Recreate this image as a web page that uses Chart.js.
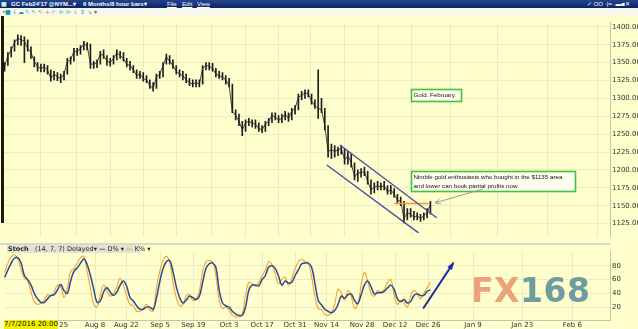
<!DOCTYPE html>
<html><head><meta charset="utf-8">
<script src="https://cdn.jsdelivr.net/npm/chart.js@4.4.1/dist/chart.umd.min.js"></script>
<style>
html,body{margin:0;padding:0;background:#fffecd;}
#wrap{position:relative;width:638px;height:329px;overflow:hidden;background:#fffecd;font-family:"DejaVu Sans",Verdana,sans-serif;}
#title{position:absolute;left:0;top:0;width:638px;height:8px;background:linear-gradient(#23448c,#0b2565);color:#fff;font-family:"Liberation Sans",Arial,sans-serif;font-size:6px;font-weight:bold;line-height:8px;}
#title span{position:absolute;top:0;white-space:nowrap;}
#tools{position:absolute;left:0;top:8px;width:638px;height:8px;background:#f7f7ea;font-size:6px;line-height:8px;white-space:nowrap;}
#tools span{position:absolute;top:0;}
#leftbar{position:absolute;left:1px;top:16px;width:3px;height:207px;background:#1b1b1b;}
#sep{position:absolute;left:0;top:243px;width:610px;height:2px;background:#d9d9c6;}
#c1{position:absolute;left:0;top:16px;}
#c2{position:absolute;left:0;top:245px;}
#stochLeg{position:absolute;left:7px;top:245px;height:8px;width:133px;background:#e3e3d3;font-size:6.5px;line-height:8px;color:#222;white-space:nowrap;}
#stamp{position:absolute;left:4px;top:320px;width:54px;height:9px;background:#f2f200;font-size:7px;line-height:9px;color:#111;white-space:nowrap;overflow:hidden;}
#wm{position:absolute;left:471px;top:274px;font-family:"DejaVu Sans",sans-serif;font-weight:bold;font-size:33px;line-height:33px;letter-spacing:0.5px;white-space:nowrap;}
</style></head>
<body>
<div id="wrap">
  <div id="title">
    <span style="left:1px;color:#cfe;">&#9635;</span>
    <span style="left:11px;">GC Feb24'17 @NYM...&#9662;</span>
    <span style="left:83px;">6 Months/8 hour bars&#9662;</span>
    <span style="left:167px;font-weight:normal;text-decoration:underline;">File</span>
    <span style="left:182px;font-weight:normal;text-decoration:underline;">Edit</span>
    <span style="left:197px;font-weight:normal;text-decoration:underline;">View</span>
    <span style="left:587px;font-weight:normal;">&#10003; OO &middot;|=&middot; &#9644;&#9632;&#10005;</span>
  </div>
  <div id="tools">
    <span style="left:2px;color:#c33;">&#8226;</span>
    <span style="left:5px;color:#19a;">&#9632;</span>
    <span style="left:12px;color:#3a8;">&#8681;</span>
    <span style="left:18px;color:#19a;">&#9729;</span>
    <span style="left:25px;color:#595;">&#8598;</span>
    <span style="left:31px;color:#595;">&#8598;</span>
    <span style="left:38px;color:#595;">&#8598;</span>
    <span style="left:45px;color:#d80;">+</span>
    <span style="left:52px;color:#3a8;">&#8866;</span>
    <span style="left:59px;color:#3a8;">&#8883;</span>
    <span style="left:66px;color:#3a8;">&#8883;</span>
    <span style="left:73px;color:#999;">&#8595;</span>
    <span style="left:80px;color:#3a8;">&#8597;</span>
    <span style="left:87px;color:#595;">&#8600;</span>
    <span style="left:94px;color:#666;">&#9662;</span>
  </div>
  <canvas id="c1" width="638" height="227" style="width:638px;height:227px"></canvas>
  <div id="leftbar"></div>
  <div id="sep"></div>
  <canvas id="c2" width="638" height="84" style="width:638px;height:84px"></canvas>
  <div id="stochLeg"><b style="margin-left:1px">Stoch</b>&nbsp;&nbsp; (14, 7, 7) Delayed&#9662; <span style="color:#2b4a90;font-weight:bold">&#8212;</span> D% &#9662; <span style="color:#f0a030;font-weight:bold">&#8212;</span> K% &#9662;</div>
  <div id="stamp">7/7/2016 20:00</div>
  <div id="wm"><span style="color:#eba27b">FX</span><span style="color:#6f9ca0">168</span></div>
</div>
<script>
// ---------- DATA ----------
// x positions: trading-day index, Jul 7 2016 = 0; first bar is index -6
const firstDayIndex = -6;
const priceClose = [
1345,1360,1368,1378,1384,1382,1380,1370,1364,1352,
1344,1342,1344,1340,1328,1334,1330,1328,1334,1352,
1354,1366,1365,1370,1376,1374,1348,1348,1350,1362,
1360,1352,1350,1356,1364,1360,1356,1348,1346,1340,
1332,1334,1328,1326,1318,1314,1330,1334,1346,1358,
1352,1346,1338,1334,1332,1326,1322,1320,1322,1320,
1342,1346,1345,1342,1334,1332,1330,1326,1318,1282,
1276,1268,1256,1266,1268,1266,1264,1258,1256,1264,
1268,1276,1274,1270,1272,1278,1272,1282,1286,1302,
1304,1308,1306,1296,1290,1286,1284,1262,1226,1228,
1226,1228,1230,1214,1220,1210,1190,1196,1196,1198,
1184,1172,1176,1178,1176,1178,1170,1172,1166,1158,
1156,1132,1140,1138,1134,1136,1132,1136,1140,1152];
const priceHigh = [
1350,1364,1372,1382,1389,1388,1386,1382,1372,1358,
1350,1348,1348,1346,1340,1338,1336,1334,1338,1356,
1358,1370,1370,1374,1380,1378,1376,1352,1354,1366,
1368,1360,1356,1360,1368,1366,1364,1356,1352,1346,
1340,1338,1336,1332,1326,1322,1334,1338,1350,1362,
1360,1354,1346,1340,1338,1334,1328,1326,1326,1326,
1346,1350,1350,1349,1342,1338,1336,1332,1328,1320,
1284,1278,1268,1270,1272,1270,1270,1266,1262,1268,
1272,1280,1280,1276,1278,1282,1280,1286,1290,1306,
1310,1312,1312,1306,1298,1340,1300,1286,1262,1236,
1234,1232,1234,1230,1226,1222,1210,1200,1202,1204,
1198,1186,1182,1184,1182,1184,1178,1178,1174,1166,
1162,1156,1146,1146,1142,1140,1138,1140,1146,1156];
const priceLow = [
1338,1346,1358,1366,1375,1374,1350,1366,1356,1344,
1338,1337,1337,1334,1324,1326,1325,1322,1326,1334,
1348,1352,1360,1362,1368,1368,1342,1342,1343,1348,
1356,1346,1345,1348,1354,1356,1352,1344,1340,1336,
1328,1328,1324,1322,1314,1310,1314,1328,1330,1348,
1348,1342,1334,1330,1326,1322,1318,1316,1316,1316,
1320,1340,1340,1338,1330,1328,1326,1320,1316,1280,
1270,1262,1248,1254,1262,1260,1258,1254,1252,1254,
1262,1266,1270,1266,1266,1270,1268,1270,1278,1284,
1298,1300,1302,1292,1286,1272,1280,1256,1218,1216,
1218,1220,1222,1208,1208,1204,1186,1184,1190,1192,
1180,1166,1168,1172,1172,1172,1166,1166,1162,1154,
1150,1126,1130,1134,1130,1130,1128,1130,1133,1138];
const stochD = [
63,74,84,91,92,84,66,60,52,40,
32,27,27,32,37,38,45,53,44,40,
58,72,77,84,90,82,66,46,27,29,
42,48,42,37,42,52,58,50,34,29,
22,17,17,20,20,17,33,57,76,86,
88,72,50,34,26,30,36,34,31,36,
56,76,83,84,78,45,26,22,20,14,
10,8,8,20,45,52,52,51,60,66,
78,80,76,65,52,58,55,56,66,74,
83,84,84,78,55,30,23,17,14,12,
15,24,36,33,38,39,30,25,38,52,
58,50,39,41,41,43,48,52,46,32,
28,31,26,28,37,39,37,37,43,45];
const stochK = [
70,84,93,96,90,74,62,58,42,28,
24,26,30,38,36,42,52,50,34,48,
72,76,84,92,94,72,48,24,20,38,
52,44,36,40,50,62,52,36,24,22,
14,14,18,24,16,14,48,72,88,94,
86,56,34,22,24,36,38,30,32,44,
72,86,88,86,66,30,18,20,16,8,
6,6,10,38,56,54,50,56,66,74,
86,82,68,54,60,64,52,62,76,86,
90,86,84,64,36,18,16,10,8,12,
24,46,40,30,44,36,18,24,52,70,
58,40,36,44,42,46,56,60,38,24,
30,26,20,36,44,40,32,40,48,56];
const priceTicks = [1125,1150,1175,1200,1225,1250,1275,1300,1325,1350,1375,1400];
const stochTicks = [20,40,60,80];
const dateTickLabels = ['Jul 25','Aug 8','Aug 22','Sep 5','Sep 19','Oct 3','Oct 17','Oct 31','Nov 14','Nov 28','Dec 12','Dec 26','Jan 9','Jan 23','Feb 6'];
const dateTickIndex  = [10.3,21.4,30.9,41.1,51.2,62,72,82,91.5,102.3,112.3,122.3,135.9,150.8,166];
const channelUpper = [[95.6,1235],[124.9,1133]];
const channelLower = [[91.6,1207],[119.4,1112]];
const breakoutLevel = 1153;
const breakoutFrom = 112, breakoutTo = 122.5;

// ---------- BUILD ----------
const idx = priceClose.map((_, i) => firstDayIndex + i);
const closePts = idx.map((d, i) => ({x: d, y: priceClose[i]}));
const rangePts = idx.map((d, i) => ({x: d, y: [priceLow[i], priceHigh[i]]}));
const dPts = idx.map((d, i) => ({x: d, y: stochD[i]}));
const kPts = idx.map((d, i) => ({x: d, y: stochK[i]}));

const X_MIN = -6.18, X_MAX = 177.4;
const GRID = '#ecebc2';
const FONT = {family: '"DejaVu Sans", Verdana, sans-serif', size: 7};

function dateAxis(showLabels) {
  return {
    type: 'linear', min: X_MIN, max: X_MAX, offset: false,
    afterBuildTicks: s => { s.ticks = dateTickIndex.map(v => ({value: v})); },
    afterFit: s => { s.height = showLabels ? 9 : 0; },
    grid: {color: GRID, drawTicks: false, lineWidth: 1},
    border: {display: showLabels, color: '#c4c4b0'},
    ticks: {display: showLabels, autoSkip: false, maxRotation: 0, padding: 1, color: '#333', font: FONT,
      callback: v => { const k = dateTickIndex.indexOf(v); return k >= 0 ? dateTickLabels[k] : ''; }}
  };
}

const notesPlugin = {
  id: 'notes',
  afterDatasetsDraw(chart) {
    const {ctx, scales: {x, y}} = chart;
    ctx.save();
    ctx.font = '6.2px "Liberation Sans", Arial, sans-serif';
    ctx.textBaseline = 'middle';
    function box(ix, pv, w, h, lines) {
      const px = Math.round(x.getPixelForValue(ix)) + 0.5, py = Math.round(y.getPixelForValue(pv)) + 0.5;
      ctx.fillStyle = '#fffff2';
      ctx.fillRect(px, py, w, h);
      ctx.strokeStyle = '#3cc43c'; ctx.lineWidth = 1.6;
      ctx.strokeRect(px, py, w, h);
      ctx.fillStyle = '#111';
      lines.forEach((t, i) => ctx.fillText(t, px + 2, py + 6 + i * 8.5));
    }
    box(117.2, 1313, 50, 12, ['Gold. February.']);
    box(117.2, 1199, 164, 20, ['Nimble gold enthusiasts who bought in the $1135 area', 'and lower can book partial profits now.']);
    // grey arrow
    const x0 = x.getPixelForValue(139), y0 = y.getPixelForValue(1173.5);
    const x1 = x.getPixelForValue(124.4), y1 = y.getPixelForValue(1154);
    ctx.strokeStyle = '#9a9a9a'; ctx.lineWidth = 1;
    ctx.beginPath(); ctx.moveTo(x0, y0); ctx.lineTo(x1, y1); ctx.stroke();
    const a = Math.atan2(y1 - y0, x1 - x0);
    ctx.beginPath();
    ctx.moveTo(x1 - 6 * Math.cos(a - 0.45), y1 - 6 * Math.sin(a - 0.45));
    ctx.lineTo(x1, y1);
    ctx.lineTo(x1 - 6 * Math.cos(a + 0.45), y1 - 6 * Math.sin(a + 0.45));
    ctx.stroke();
    ctx.restore();
  }
};

new Chart(document.getElementById('c1'), {
  type: 'bar',
  data: {datasets: [
    {type: 'line', data: channelUpper.map(p => ({x: p[0], y: p[1]})), borderColor: '#4a4aa6', borderWidth: 1.3, pointRadius: 0},
    {type: 'line', data: channelLower.map(p => ({x: p[0], y: p[1]})), borderColor: '#4a4aa6', borderWidth: 1.3, pointRadius: 0},
    {type: 'line', data: [{x: breakoutFrom, y: breakoutLevel}, {x: breakoutTo, y: breakoutLevel}], borderColor: '#f39a2c', borderWidth: 1.6, pointRadius: 0},
    {type: 'line', data: closePts, borderColor: '#1e1e1e', borderWidth: 0.8, pointRadius: 0, tension: 0},
    {type: 'bar', data: rangePts, backgroundColor: '#1e1e1e', barThickness: 1, grouped: false}
  ]},
  options: {
    responsive: false, animation: false, events: [],
    layout: {padding: {left: 4, right: 0, top: 0, bottom: 0}},
    plugins: {legend: {display: false}, tooltip: {enabled: false}},
    scales: {
      x: dateAxis(false),
      y: {
        position: 'right', min: 1106.5, max: 1406.6,
        afterBuildTicks: s => { s.ticks = priceTicks.map(v => ({value: v})); },
        afterFit: s => { s.width = 28; },
        grid: {color: GRID, drawTicks: false},
        border: {display: true, color: '#c4c4b0'},
        ticks: {padding: 2, color: '#333', font: FONT, callback: v => Number(v).toFixed(2)}
      }
    }
  },
  plugins: [notesPlugin]
});

const arrowPlugin = {
  id: 'blueArrow',
  afterDatasetsDraw(chart) {
    const {ctx, scales: {x, y}} = chart;
    const x0 = x.getPixelForValue(120.8), y0 = y.getPixelForValue(18);
    const x1 = x.getPixelForValue(129.9), y1 = y.getPixelForValue(84);
    ctx.save();
    ctx.strokeStyle = '#1f2aa6'; ctx.fillStyle = '#1f2aa6'; ctx.lineWidth = 2;
    ctx.beginPath(); ctx.moveTo(x0, y0); ctx.lineTo(x1, y1); ctx.stroke();
    const a = Math.atan2(y1 - y0, x1 - x0);
    ctx.beginPath();
    ctx.moveTo(x1 + 2 * Math.cos(a), y1 + 2 * Math.sin(a));
    ctx.lineTo(x1 - 7 * Math.cos(a - 0.4), y1 - 7 * Math.sin(a - 0.4));
    ctx.lineTo(x1 - 7 * Math.cos(a + 0.4), y1 - 7 * Math.sin(a + 0.4));
    ctx.closePath(); ctx.fill();
    ctx.restore();
  }
};

new Chart(document.getElementById('c2'), {
  type: 'line',
  data: {datasets: [
    {label: 'D%', data: dPts, borderColor: '#2b4a90', borderWidth: 1.5, pointRadius: 0, tension: 0.4},
    {label: 'K%', data: kPts, borderColor: '#f4a22e', borderWidth: 1.1, pointRadius: 0, tension: 0.4}
  ]},
  options: {
    responsive: false, animation: false, events: [],
    layout: {padding: {left: 4, right: 0, top: 0, bottom: 0}},
    plugins: {legend: {display: false}, tooltip: {enabled: false}},
    scales: {
      x: dateAxis(true),
      y: {
        position: 'right', min: 1.3, max: 101.3,
        afterBuildTicks: s => { s.ticks = stochTicks.map(v => ({value: v})); },
        afterFit: s => { s.width = 28; },
        grid: {color: GRID, drawTicks: false},
        border: {display: true, color: '#c4c4b0'},
        ticks: {padding: 2, color: '#333', font: FONT}
      }
    }
  },
  plugins: [arrowPlugin]
});
</script>
</body></html>
